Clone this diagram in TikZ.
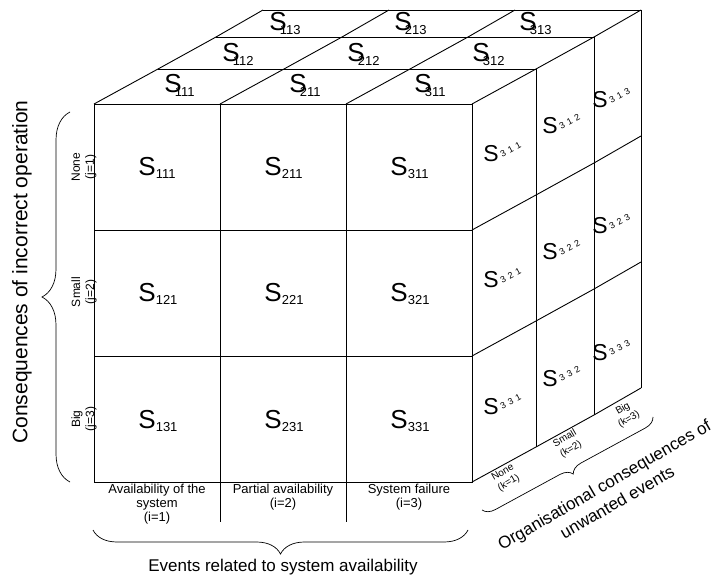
\documentclass[tikz,border=0pt]{standalone}
\usepackage{fontspec}
\setmainfont{Liberation Sans}
\usetikzlibrary{decorations.pathreplacing}
\newcommand{\FS}[1]{{\fontsize{26}{26}\selectfont S}\kern0pt\raisebox{-3pt}{\fontsize{13}{13}\selectfont #1}}
\newcommand{\TS}[1]{{\fontsize{26}{26}\selectfont S}\kern-7pt\raisebox{-4pt}{\fontsize{13}{13}\selectfont #1}}
\begin{document}
\begin{tikzpicture}[x=1pt,y=-1pt,line width=0.9pt,
  edge/.style={line width=0.9pt,black},
  lbl/.style={inner sep=0pt,anchor=base west},
  rs/.style={inner sep=0pt,anchor=base west,font=\fontsize{23}{23}\selectfont},
  rsub/.style={inner sep=0pt,anchor=base west,rotate=28,font=\fontsize{9}{9}\selectfont},
  axlab/.style={align=center,inner sep=0pt,font=\fontsize{12}{14}\selectfont},
  axtitle/.style={align=center,inner sep=0pt,font=\fontsize{17}{20}\selectfont},
  bracestyle/.style={decorate,line width=0.7pt}]
\useasboundingbox (0,0) rectangle (715,577);
% front face
\draw[edge] (94,104) rectangle (472,482);
\foreach \x in {220,346} \draw[edge] (\x,104) -- (\x,482);
\foreach \y in {230,356} \draw[edge] (94,\y) -- (472,\y);
% top face
\draw[edge] (158,69) -- (536,69);
\draw[edge] (216,37) -- (594,37);
\draw[edge] (263,10) -- (641,10);
\foreach \x in {94,220,346,472} \draw[edge] (\x,104) -- ({\x+64},69) -- ({\x+122},37) -- ({\x+169},10);
% right face
\draw[edge] (536,69) -- (536,447);
\draw[edge] (594,37) -- (594,415);
\draw[edge] (641,10) -- (641,388);
\foreach \y in {230,356,482} \draw[edge] (472,\y) -- (536,{\y-35}) -- (594,{\y-67}) -- (641,{\y-94});
% front labels
\foreach \i in {1,2,3} \foreach \j in {1,2,3}
  \node[lbl] (f\i\j) at ({138+126*(\i-1)},{176+126*(\j-1)}) {\FS{\i\j1}};
% top labels
\foreach \i in {1,2,3} {
  \node[lbl] (t\i1) at ({164+125*(\i-1)},93) {\TS{\i11}};
  \node[lbl] (t\i2) at ({222+125*(\i-1)},62) {\TS{\i12}};
  \node[lbl] (t\i3) at ({269+125*(\i-1)},31) {\TS{\i13}};
}
% right labels
\foreach \j in {1,2,3} {
  \node[rs] (r\j1) at (483,{162+126*(\j-1)}) {S};
  \node[rsub] (rs\j1) at (502,{158+126*(\j-1)}) {3\hspace{3.5pt}\j\hspace{3.5pt}1};
  \node[rs] (r\j2) at (542,{134+126*(\j-1)}) {S};
  \node[rsub] (rs\j2) at (561,{130+126*(\j-1)}) {3\hspace{3.5pt}\j\hspace{3.5pt}2};
  \node[rs] (r\j3) at (592,{108+126*(\j-1)}) {S};
  \node[rsub] (rs\j3) at (611,{104+126*(\j-1)}) {3\hspace{3.5pt}\j\hspace{3.5pt}3};
}
% left axis
\node[axlab,rotate=90] (j1) at (84,167) {None\\(j=1)};
\node[axlab,rotate=90] (j2) at (84,292) {Small\\(j=2)};
\node[axlab,rotate=90] (j3) at (84,419) {Big\\(j=3)};
\coordinate (lb1) at (70,482);
\coordinate (lb2) at (70,112);
\draw[bracestyle,decoration={brace,amplitude=28pt}] (lb1) -- (lb2);
\node[axtitle,rotate=90,font=\fontsize{21}{23}\selectfont] (ltitle) at (22,272) {Consequences of incorrect operation};
% bottom axis
\draw[edge] (220,482) -- (220,522);
\draw[edge] (346,482) -- (346,522);
\node[axlab,anchor=north,font=\fontsize{13}{14}\selectfont] (i1) at (157,484) {Availability of the\\system\\(i=1)};
\node[axlab,anchor=north,font=\fontsize{13}{14}\selectfont] (i2) at (283,484) {Partial availability\\(i=2)};
\node[axlab,anchor=north,font=\fontsize{13}{14}\selectfont] (i3) at (409,484) {System failure\\(i=3)};
\coordinate (bb1) at (468,530);
\coordinate (bb2) at (93,530);
\draw[bracestyle,decoration={brace,amplitude=24pt}] (bb1) -- (bb2);
\node[axtitle] (btitle) at (283,567) {Events related to system availability};
% right axis
\node[axlab,rotate=30,font=\fontsize{10}{12}\selectfont] (k1) at (506,478) {None\\(k=1)};
\node[axlab,rotate=30,font=\fontsize{10}{12}\selectfont] (k2) at (568,444) {Small\\(k=2)};
\node[axlab,rotate=30,font=\fontsize{10}{12}\selectfont] (k3) at (626,414) {Big\\(k=3)};
\coordinate (rb1) at (653,417);
\coordinate (rb2) at (482,510);
\draw[bracestyle,decoration={brace,amplitude=12pt}] (rb1) -- (rb2);
\node[axtitle,rotate=30] (rtitle1) at (605,486) {Organisational consequences of};
\node[axtitle,rotate=30] (rtitle2) at (617,502) {unwanted events};
\end{tikzpicture}
\end{document}
